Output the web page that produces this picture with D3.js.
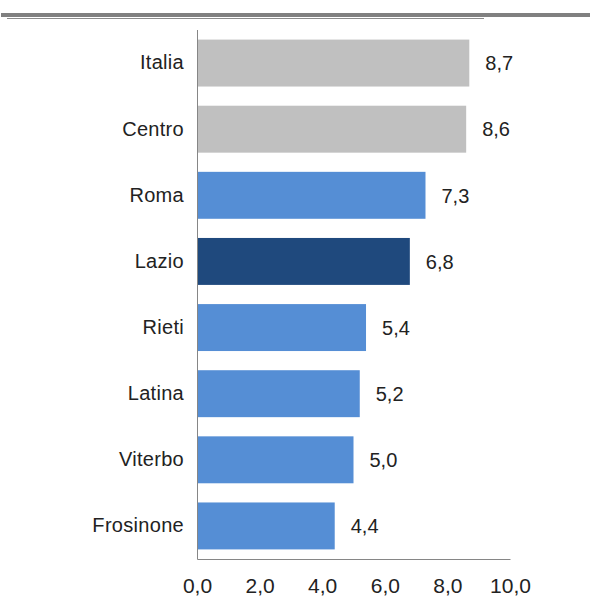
<!DOCTYPE html>
<html><head><meta charset="utf-8">
<script src="https://cdn.jsdelivr.net/npm/d3@7"></script>
<style>body{margin:0;background:#fff}svg{display:block}text{font-family:"Liberation Sans",Arial,sans-serif}</style>
</head><body><svg id="c" width="590" height="597"></svg>
<script>
const categories = ["Italia","Centro","Roma","Lazio","Rieti","Latina","Viterbo","Frosinone"];
const values = [8.7,8.6,7.3,6.8,5.4,5.2,5.0,4.4];
const groups = ["ref","ref","prov","region","prov","prov","prov","prov"];
const ticks = [0,2,4,6,8,10];

const colors = {ref:"#c0c0c0", prov:"#558ed5", region:"#1f497d"};
const svg = d3.select("#c");
const fmt = v => v.toFixed(1).replace(".", ",");

// decorative top rules
svg.append("rect").attr("x",1).attr("y",13).attr("width",589).attr("height",4).attr("fill","#808080");
svg.append("line").attr("x1",7).attr("x2",484).attr("y1",18.5).attr("y2",18.5).attr("stroke","#8a8a8a").attr("stroke-width",1);

const x = d3.scaleLinear().domain([0,10]).range([197,510]);
const y = d3.scaleBand().domain(categories).range([30,559]).paddingInner(0.29).paddingOuter(0.145);

svg.selectAll("rect.bar").data(categories).join("rect").attr("class","bar")
  .attr("x", x(0)).attr("y", d => y(d))
  .attr("width", (d,i) => x(values[i]) - x(0))
  .attr("height", y.bandwidth())
  .attr("fill", (d,i) => colors[groups[i]]);

svg.selectAll("text.val").data(categories).join("text").attr("class","val")
  .attr("x", (d,i) => x(values[i]) + 16)
  .attr("y", d => y(d) + y.bandwidth()/2)
  .attr("dy","0.36em").attr("font-size",20).attr("fill","#222")
  .text((d,i) => fmt(values[i]));

const yAxis = svg.append("g").attr("transform",`translate(${x(0)},0)`)
  .call(d3.axisLeft(y).tickSize(0).tickPadding(13));
yAxis.select(".domain").attr("stroke","#868686").attr("d","M0.5,30V559.5");
yAxis.selectAll("text").attr("font-size",20).attr("letter-spacing","0.3px").attr("fill","#222").attr("font-family","Liberation Sans, Arial, sans-serif");

const xAxis = svg.append("g").attr("transform","translate(0,559)")
  .call(d3.axisBottom(x).tickValues(ticks).tickSize(0).tickPadding(19).tickFormat(fmt));
xAxis.select(".domain").attr("stroke","#868686");
xAxis.selectAll("text").attr("font-size",21).attr("fill","#222").attr("font-family","Liberation Sans, Arial, sans-serif");
</script></body></html>
